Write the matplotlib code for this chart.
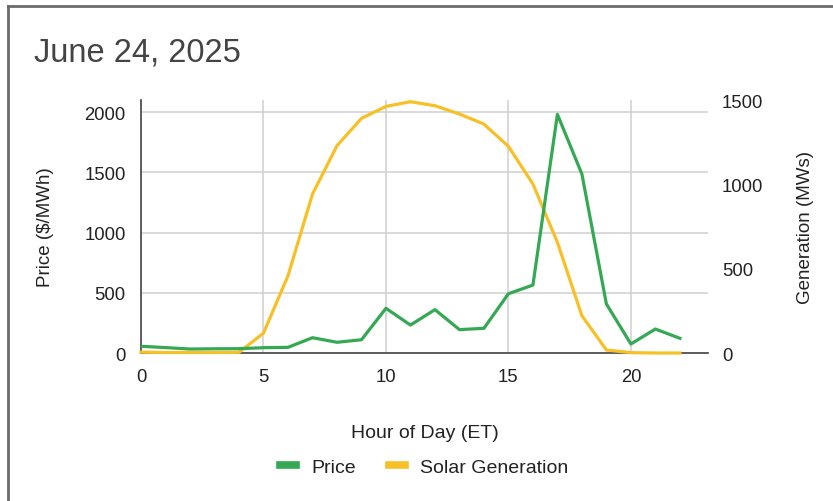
import numpy as np
import matplotlib.pyplot as plt
from matplotlib.lines import Line2D

plt.rcParams['font.family'] = ['Liberation Sans', 'DejaVu Sans']

hours = list(range(23))
price = [56, 45, 33, 35, 36, 44, 47, 127, 89, 110, 371, 232, 360, 194, 205,
         492, 564, 1981, 1485, 407, 75, 199, 122]
solar = [5, 3, 3, 3, 4, 118, 458, 942, 1229, 1391, 1462, 1490, 1466, 1417,
         1357, 1225, 1002, 656, 221, 18, 2, 0, 0]

price_ticks = [0, 500, 1000, 1500, 2000]
gen_ticks = [0, 500, 1000, 1500]
hour_ticks = [0, 5, 10, 15, 20]

green = '#34A853'
yellow = '#F6C026'
txt = '#222222'

fig = plt.figure(figsize=(8.33, 5.02), dpi=100)

# screenshot frame (left and top edges only)
fig.add_artist(Line2D([0.0096, 0.0096], [0, 0.9865], transform=fig.transFigure,
                      color='#6b6b6b', lw=2))
fig.add_artist(Line2D([0.0096, 1.0], [0.9865, 0.9865], transform=fig.transFigure,
                      color='#6b6b6b', lw=2))

pos = [0.1693, 0.2948, 0.6807, 0.504]
ax = fig.add_axes(pos)
ax.set_xlim(0, 23.15)
ax.set_ylim(0, 2100)
ax.set_xticks(hour_ticks)
ax.set_yticks(price_ticks)
ax.grid(True, color='#d0d0d0', lw=1.1)
ax.set_axisbelow(True)
for s in ['top', 'right']:
    ax.spines[s].set_visible(False)
ax.spines['left'].set_color('#444444')
ax.spines['bottom'].set_color('#444444')
ax.spines['left'].set_linewidth(1.2)
ax.spines['bottom'].set_linewidth(1.2)
ax.tick_params(length=0, labelsize=13.3, labelcolor=txt)
ax.tick_params(axis='y', pad=11)
ax.tick_params(axis='x', pad=11)
ax.set_ylabel('Price ($/MWh)', fontsize=13.5, color=txt, labelpad=22)
ax.set_xlabel('Hour of Day (ET)', fontsize=14, color=txt, labelpad=28)

# solar on the right axis
ax2 = ax.twinx()
ax2.set_ylim(0, 1500)
ax2.set_yticks(gen_ticks)
for s in ['top', 'right', 'left', 'bottom']:
    ax2.spines[s].set_visible(False)
ax2.tick_params(length=0, labelsize=13.3, labelcolor=txt, pad=10)
ax2.set_ylabel('Generation (MWs)', fontsize=13.5, color=txt, labelpad=24)
ax2.plot(hours, solar, color=yellow, lw=2.3, solid_joinstyle='round',
         clip_on=False)

# price drawn on top of the solar line
ax3 = fig.add_axes(pos, sharex=ax, sharey=ax)
ax3.patch.set_visible(False)
ax3.axis('off')
ax3.plot(hours, price, color=green, lw=2.3, solid_joinstyle='round')

fig.text(0.041, 0.895, 'June 24, 2025', fontsize=23.5, color='#444444',
         ha='left', va='center')

handles = [Line2D([], [], color=green, lw=5.5),
           Line2D([], [], color=yellow, lw=5.5)]
fig.legend(handles, ['Price', 'Solar Generation'], loc='center',
           bbox_to_anchor=(0.509, 0.068), ncol=2, frameon=False,
           fontsize=14, handlelength=0.85, handletextpad=0.75,
           columnspacing=1.7, labelcolor=txt)

fig.savefig('out.png', dpi=100)
